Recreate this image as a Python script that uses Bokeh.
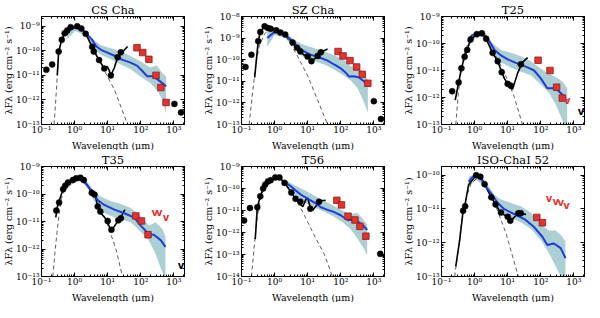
import math
from bokeh.plotting import figure
from bokeh.layouts import column, row
from bokeh.models import LogAxis, FixedTicker, CustomJSTickFormatter, Range1d, Title
from bokeh.core.properties import value
from bokeh.embed import file_html
from bokeh.resources import INLINE

# ---------------- data (wavelength in micron, lambda*F_lambda in erg cm^-2 s^-1) -------------
# CS Cha
CS_PTS_WL = [0.14, 0.21, 0.33, 0.41, 0.50, 0.60, 0.76, 1.2, 1.6, 2.16, 3.4, 3.8, 5.5, 7.9, 12.5, 20, 25, 1040]
CS_PTS_F = [1.7e-11, 2.8e-11, 9.3e-11, 2.8e-10, 5.2e-10, 6.8e-10, 9.2e-10, 1.0e-9, 8.1e-10, 5.0e-10, 1.45e-10, 9.3e-11, 4.2e-11, 1.9e-11, 1.0e-11, 5.5e-11, 8.7e-11, 6.9e-13]
CS_LINE_WL = [0.30, 0.33, 0.41, 0.50, 0.60, 0.76, 1.2, 1.6, 2.16, 3.4, 4.1, 5.5, 7.9, 9.8, 10.9, 12.5, 16, 20, 40]
CS_LINE_F = [1e-11, 9.3e-11, 2.8e-10, 5.2e-10, 6.8e-10, 9.2e-10, 1.0e-9, 8.1e-10, 5.0e-10, 1.45e-10, 8.5e-11, 4.2e-11, 1.9e-11, 2.3e-11, 1.7e-11, 1e-11, 2.1e-11, 5.5e-11, 1.5e-10]
CS_PHOT_WL = [0.24, 0.27, 0.30, 0.335, 0.41, 0.55, 0.8, 1.1, 1.68, 2.6, 4.1, 7.9, 16, 40]
CS_PHOT_F = [1e-13, 1e-12, 1e-11, 8e-11, 3.5e-10, 6.5e-10, 8.8e-10, 9.1e-10, 7.4e-10, 3.0e-10, 9.3e-11, 1.6e-11, 2.6e-12, 1e-13]
CS_MED_WL = [0.56, 0.75, 1.1, 1.58, 2.3, 3.25, 4.6, 6.3, 9.8, 16, 27, 49, 77, 110, 155, 240, 345, 585]
CS_MED_F = [4.5e-10, 7.4e-10, 9.1e-10, 8.1e-10, 4.8e-10, 3.0e-10, 1.5e-10, 1.1e-10, 8.5e-11, 6.3e-11, 4.4e-11, 3.3e-11, 2.5e-11, 1.55e-11, 9.3e-12, 9.3e-12, 6.4e-12, 3.6e-12]
CS_BAND_WL = [0.59, 1.06, 2.16, 4.1, 6.3, 12.5, 25, 48, 98, 190, 307, 430, 585]
CS_BAND_HI = [7.4e-10, 1.0e-9, 6.4e-10, 2.6e-10, 1.7e-10, 1.26e-10, 9.3e-11, 6.3e-11, 3.8e-11, 2.1e-11, 2.5e-11, 1.35e-11, 8.7e-12]
CS_BAND_LO = [3e-10, 6.4e-10, 4.1e-10, 1.1e-10, 7e-11, 4.5e-11, 2.8e-11, 1.8e-11, 9e-12, 5e-12, 2.5e-12, 1.2e-12, 2.8e-13]
CS_SQ_WL = [77, 115, 176, 289, 406, 582]
CS_SQ_F = [1.33e-10, 8.5e-11, 4.5e-11, 1e-11, 3.2e-12, 7.9e-13]
CS_ERR_WL = [1650]
CS_ERR_F = [3.1e-13]
CS_ERR_LO = [2.4e-13]
CS_ERR_HI = [4.0e-13]

# SZ Cha
SZ_PTS_WL = [0.132, 0.2, 0.32, 0.37, 0.5, 0.63, 0.76, 1.12, 1.5, 2.1, 3.5, 4.8, 6.0, 10, 13, 20, 25, 1000, 1640]
SZ_PTS_F = [4.6e-11, 1.7e-10, 7.2e-10, 1.9e-9, 3.5e-9, 2.9e-9, 2.7e-9, 2.3e-9, 1.8e-9, 1.45e-9, 6.3e-10, 3.6e-10, 2.4e-10, 1.4e-10, 8.5e-11, 1.5e-10, 2.2e-10, 1.2e-12, 1.8e-13]
SZ_LINE_WL = [0.25, 0.32, 0.37, 0.5, 0.63, 0.76, 1.12, 1.5, 2.1, 3.5, 4.8, 6.0, 8, 10, 13, 16, 20, 25, 40]
SZ_LINE_F = [1.5e-11, 7.2e-10, 1.9e-9, 3.5e-9, 2.9e-9, 2.7e-9, 2.3e-9, 1.8e-9, 1.45e-9, 6.3e-10, 3.6e-10, 2.4e-10, 1.6e-10, 1.4e-10, 8.5e-11, 1.1e-10, 1.5e-10, 2.2e-10, 3.1e-10]
SZ_PHOT_WL = [0.17, 0.22, 0.28, 0.35, 0.5, 0.8, 1.12, 1.8, 2.8, 5.0, 10, 20, 40]
SZ_PHOT_F = [1e-13, 3.8e-12, 8.5e-11, 4.8e-10, 1.6e-9, 2.7e-9, 2.7e-9, 1.8e-9, 6.8e-10, 1.4e-10, 1.8e-11, 1.35e-12, 1e-13]
SZ_MED_WL = [0.6, 0.9, 1.12, 2.1, 3.2, 5.0, 7.9, 11, 16, 25, 40, 63, 100, 141, 178, 250, 355, 500, 660]
SZ_MED_F = [1.0e-9, 1.7e-9, 2.0e-9, 1.45e-9, 8e-10, 4e-10, 2.4e-10, 1.8e-10, 1.5e-10, 1.2e-10, 9.1e-11, 6e-11, 4e-11, 2.5e-11, 1.65e-11, 1.7e-11, 1.5e-11, 1e-11, 6.3e-12]
SZ_BAND_WL = [0.6, 1.0, 2.0, 4.0, 7.9, 16, 32, 63, 126, 200, 316, 450, 560, 660]
SZ_BAND_HI = [1.9e-9, 2.7e-9, 1.9e-9, 8e-10, 4.8e-10, 3.4e-10, 2.4e-10, 1.6e-10, 1e-10, 5e-11, 5e-11, 2.8e-11, 1.8e-11, 1.15e-11]
SZ_BAND_LO = [4e-10, 1.35e-9, 1.1e-9, 3.4e-10, 1.2e-10, 8.5e-11, 6e-11, 3.5e-11, 1.8e-11, 1.1e-11, 5e-12, 1.6e-12, 6.8e-13, 3.6e-13]
SZ_SQ_WL = [83, 117, 190, 302, 447, 660]
SZ_SQ_F = [2.4e-10, 1.5e-10, 9.1e-11, 4.6e-11, 2.1e-11, 8.1e-12]

# T25
T25_PTS_WL = [0.21, 0.33, 0.4, 0.5, 0.6, 0.76, 1.17, 1.66, 2.24, 3.5, 5.0, 6.6, 10, 12.6, 25]
T25_PTS_F = [1.7e-12, 3.6e-12, 1.2e-11, 3.2e-11, 5.8e-11, 1.4e-10, 2.2e-10, 2.4e-10, 1.5e-10, 4.5e-11, 2.2e-11, 8.7e-12, 3.2e-12, 2.7e-12, 1.7e-11]
T25_LINE_WL = [0.26, 0.33, 0.4, 0.5, 0.6, 0.76, 1.17, 1.66, 2.24, 3.5, 5.0, 6.6, 8, 10, 14, 20, 28, 40]
T25_LINE_F = [8e-13, 3.6e-12, 1.2e-11, 3.2e-11, 6e-11, 1.4e-10, 2.2e-10, 2.4e-10, 1.5e-10, 4.5e-11, 2.2e-11, 8.7e-12, 5e-12, 3.2e-12, 2e-12, 8e-12, 2e-11, 3e-11]
T25_PHOT_WL = [0.27, 0.32, 0.4, 0.52, 0.76, 1.26, 1.78, 2.8, 5.0, 10, 16, 28]
T25_PHOT_F = [1e-13, 1.3e-12, 1.3e-11, 5.8e-11, 1.5e-10, 2.2e-10, 2e-10, 8.7e-11, 2.6e-11, 4.5e-12, 1e-12, 1e-13]
T25_MED_WL = [0.63, 0.83, 1.26, 1.78, 2.5, 4.0, 6.3, 10, 20, 40, 63, 100, 158, 282, 447, 630]
T25_MED_F = [1.15e-10, 2e-10, 2.35e-10, 2.35e-10, 1.5e-10, 5.8e-11, 3.6e-11, 2.6e-11, 1.8e-11, 1.3e-11, 1e-11, 5.1e-12, 2.2e-12, 2.2e-12, 1.3e-12, 7.6e-13]
T25_BAND_WL = [0.63, 1.12, 2.0, 3.5, 6.3, 12.6, 25, 50, 100, 178, 282, 447, 560, 630]
T25_BAND_HI = [1.7e-10, 3e-10, 2.6e-10, 1e-10, 5.8e-11, 4.5e-11, 3.4e-11, 2.2e-11, 1.15e-11, 7.6e-12, 5.8e-12, 3.9e-12, 2.8e-12, 2.2e-12]
T25_BAND_LO = [7.6e-11, 1.8e-10, 1.7e-10, 3.4e-11, 2e-11, 1.3e-11, 9.1e-12, 6.6e-12, 3e-12, 1.5e-12, 5.5e-13, 1.5e-13, 8e-14, 6e-14]
T25_SQ_WL = [83, 190, 302, 447]
T25_SQ_F = [2.4e-11, 1e-11, 2.4e-12, 9.5e-13]
T25_RLIM_WL = [630]
T25_RLIM_F = [7.6e-13]
T25_BLIM_WL = [1640]
T25_BLIM_F = [3e-13]

# T35
T35_PTS_WL = [0.28, 0.34, 0.45, 0.52, 0.63, 0.89, 1.12, 1.5, 1.9, 3.3, 4.0, 5.0, 6.0, 10, 13, 21, 25]
T35_PTS_F = [2.5e-11, 4.9e-11, 1.5e-10, 2e-10, 2.6e-10, 3.2e-10, 3.7e-10, 3.9e-10, 3.2e-10, 1.1e-10, 9.5e-11, 3.5e-11, 2.3e-11, 1.05e-11, 5e-12, 1.1e-11, 1.3e-11]
T35_LINE_WL = [0.27, 0.31, 0.45, 0.63, 1.12, 1.5, 1.9, 3.3, 4.3, 5.0, 6.3, 9, 12.6, 15, 21, 25, 33]
T35_LINE_F = [1.4e-11, 4e-11, 1.5e-10, 2.6e-10, 3.7e-10, 3.9e-10, 3.2e-10, 1.2e-10, 8e-11, 3.5e-11, 2e-11, 1.2e-11, 4.7e-12, 6e-12, 1.1e-11, 1.4e-11, 2.7e-11]
T35_PHOT_WL = [0.22, 0.26, 0.32, 0.4, 0.56, 0.89, 1.41, 2.2, 3.5, 6.3, 11, 18, 28]
T35_PHOT_F = [1e-13, 9.5e-13, 1.05e-11, 6.9e-11, 2e-10, 3.4e-10, 3.9e-10, 2.6e-10, 1.2e-10, 3.1e-11, 5.4e-12, 9.5e-13, 1e-13]
T35_MED_WL = [0.63, 1.0, 1.5, 2.2, 3.2, 5.0, 7.9, 16, 32, 63, 100, 178, 250, 400, 560]
T35_MED_F = [2.3e-10, 3.4e-10, 3.6e-10, 2.3e-10, 1.35e-10, 6e-11, 4e-11, 2.7e-11, 2e-11, 1.4e-11, 7.1e-12, 3.4e-12, 3.3e-12, 2.1e-12, 1.2e-12]
T35_BAND_WL = [0.63, 1.12, 2.0, 4.0, 6.3, 12.6, 25, 50, 100, 178, 282, 447, 560]
T35_BAND_HI = [3.4e-10, 4.5e-10, 3.9e-10, 1.2e-10, 7.9e-11, 5.5e-11, 4.3e-11, 3.1e-11, 1.6e-11, 7.1e-12, 9.3e-12, 5.4e-12, 2.8e-12]
T35_BAND_LO = [1.7e-10, 3e-10, 2.6e-10, 5.2e-11, 2.3e-11, 1.6e-11, 1.2e-11, 9.3e-12, 4.2e-12, 2e-12, 6.5e-13, 1.45e-13, 8e-14]
T35_SQ_WL = [71, 105, 166]
T35_SQ_F = [1.6e-11, 1.05e-11, 3.3e-12]
T35_RLIM_WL = [263, 363, 575]
T35_RLIM_F = [2.2e-11, 2.1e-11, 1.4e-11]
T35_BLIM_WL = [1640]
T35_BLIM_F = [2.6e-13]

# T56
T56_PTS_WL = [0.12, 0.18, 0.30, 0.37, 0.45, 0.52, 0.63, 0.76, 1.05, 1.4, 2.0, 3.2, 4.3, 6.0, 12, 22]
T56_PTS_F = [3.5e-12, 1.3e-11, 1.4e-11, 4.4e-11, 1e-10, 1.5e-10, 2.1e-10, 2.4e-10, 3.2e-10, 3.2e-10, 1.8e-10, 6.5e-11, 3.4e-11, 2.5e-11, 1.2e-11, 2.5e-11]
T56_LINE_WL = [0.26, 0.30, 0.37, 0.45, 0.63, 1.05, 1.4, 2.0, 3.2, 4.3, 6.0, 7.1, 8.9, 10, 12, 14, 18, 22, 35]
T56_LINE_F = [5e-13, 1.4e-11, 4.4e-11, 1e-10, 2.1e-10, 3.2e-10, 3.2e-10, 1.8e-10, 6.5e-11, 3.4e-11, 1.9e-11, 1.5e-11, 3.2e-11, 3.7e-11, 1.4e-11, 1e-11, 1.6e-11, 2.7e-11, 2.9e-11]
T56_PHOT_WL = [0.2, 0.24, 0.3, 0.4, 0.56, 0.89, 1.4, 2.2, 4.0, 7.9, 16, 32, 56]
T56_PHOT_F = [1e-14, 1.9e-13, 5.2e-12, 5.2e-11, 1.6e-10, 2.9e-10, 2.9e-10, 1.6e-10, 4.4e-11, 6.1e-12, 7.2e-13, 1e-13, 1e-14]
T56_MED_WL = [1.9, 2.8, 4.0, 6.3, 10, 16, 25, 40, 63, 100, 158, 282, 447, 630]
T56_MED_F = [2.1e-10, 1.4e-10, 9.1e-11, 5.2e-11, 3.5e-11, 2.3e-11, 1.4e-11, 1.07e-11, 8.5e-12, 6.1e-12, 3.7e-12, 3.7e-12, 2.3e-12, 1.3e-12]
T56_BAND_WL = [1.9, 4.0, 7.9, 16, 32, 63, 112, 200, 316, 447, 525, 630]
T56_BAND_HI = [2.7e-10, 1.4e-10, 8.5e-11, 4.7e-11, 2.7e-11, 1.6e-11, 1e-11, 6.8e-12, 7.8e-12, 4.4e-12, 3.2e-12, 2.3e-12]
T56_BAND_LO = [1.6e-10, 5.2e-11, 2.3e-11, 1.4e-11, 8.5e-12, 5.2e-12, 3e-12, 1.4e-12, 5.5e-13, 2.4e-13, 1.6e-13, 9e-14]
T56_SQ_WL = [76, 105, 166, 269, 380, 575]
T56_SQ_F = [2.9e-11, 1.8e-11, 5.5e-12, 3.7e-12, 1.9e-12, 6.8e-13]
T56_ERR_WL = [1560]
T56_ERR_F = [1.07e-13]
T56_ERR_LO = [8.5e-14]
T56_ERR_HI = [1.35e-13]

# ISO-ChaI 52
ISO_PTS_WL = [0.45, 0.52, 1.12, 1.5, 2.0, 3.2, 4.3, 6.3, 10, 12, 21, 25]
ISO_PTS_F = [8.8e-12, 1.2e-11, 1e-10, 9e-11, 5.4e-11, 2.2e-11, 1.36e-11, 7.8e-12, 5.9e-12, 4.5e-12, 7.4e-12, 7.4e-12]
ISO_LINE_WL = [0.27, 0.355, 0.45, 0.52, 0.66, 1.12, 1.5, 2.0, 3.2, 4.3, 5.6, 7, 10, 12, 14, 18, 25, 36]
ISO_LINE_F = [2e-13, 1.2e-12, 8.8e-12, 1.4e-11, 5.2e-11, 1e-10, 9e-11, 5.4e-11, 2.2e-11, 1.36e-11, 9e-12, 7e-12, 5.9e-12, 4.5e-12, 5e-12, 6.5e-12, 7.4e-12, 6.8e-12]
ISO_PHOT_WL = [0.25, 0.32, 0.4, 0.52, 0.79, 1.26, 1.78, 2.8, 5.0, 8.9, 14, 21]
ISO_PHOT_F = [1e-13, 6.2e-13, 3.6e-12, 1.7e-11, 5.8e-11, 8.3e-11, 7.2e-11, 3.3e-11, 8.7e-12, 1.9e-12, 4e-13, 1e-13]
ISO_MED_WL = [0.66, 0.89, 1.12, 1.5, 2.2, 3.2, 5.0, 7.9, 16, 32, 63, 112, 158, 250, 400, 560]
ISO_MED_F = [6.4e-11, 9e-11, 1e-10, 8.3e-11, 4.6e-11, 2.8e-11, 1.5e-11, 9.8e-12, 7e-12, 5e-12, 2.9e-12, 1.5e-12, 8.5e-13, 9.5e-13, 6.9e-13, 3.5e-13]
ISO_BAND_WL = [0.66, 1.12, 2.0, 4.0, 6.3, 12.6, 25, 50, 100, 178, 282, 400, 447, 560]
ISO_BAND_HI = [9e-11, 1.1e-10, 7.2e-11, 2.6e-11, 1.9e-11, 1.5e-11, 1.2e-11, 7.8e-12, 3.6e-12, 2.3e-12, 2.3e-12, 1.7e-12, 1.5e-12, 1.07e-12]
ISO_BAND_LO = [4.6e-11, 7.2e-11, 4.6e-11, 1.36e-11, 7.8e-12, 5.4e-12, 4e-12, 2.6e-12, 1.2e-12, 4.9e-13, 2e-13, 1e-13, 8e-14, 6e-14]
ISO_SQ_WL = [76, 112]
ISO_SQ_F = [5.6e-12, 3.9e-12]
ISO_RLIM_WL = [178, 282, 400, 600]
ISO_RLIM_F = [2e-11, 1.7e-11, 1.6e-11, 1.3e-11]

TITLES = ["CS Cha", "SZ Cha", "T25", "T35", "T56", "ISO-ChaI 52"]
Y_RANGES = [(1e-13, 2.5e-9), (1e-13, 1e-8), (1e-13, 1e-9), (1e-13, 1e-9), (1e-14, 1e-9), (1e-13, 1.8e-10)]
X_RANGE = (0.1, 2100)
X_LABEL = "Wavelength (\u03bcm)"
Y_LABEL = "\u03bbF\u03bb (erg cm\u207b\u00b2 s\u207b\u00b9)"

# ---------------- styling ----------------
SERIF = "DejaVu Serif"
BLUE = "#1e3cd8"
BAND = "#abcfd3"
RED = "#e4332d"
RED_EDGE = "#8e1b1b"

FMT_CODE = """
const s = {'-':'\u207b','0':'\u2070','1':'\u00b9','2':'\u00b2','3':'\u00b3','4':'\u2074','5':'\u2075','6':'\u2076','7':'\u2077','8':'\u2078','9':'\u2079'};
const e = Math.round(Math.log10(tick));
return '10' + String(e).split('').map(c => s[c]).join('');
"""


def decade_ticker(lo, hi):
    k0 = int(math.floor(math.log10(lo) + 1e-9))
    k1 = int(math.ceil(math.log10(hi) - 1e-9))
    major = [10.0 ** k for k in range(k0, k1 + 1)]
    minor = [m * 10.0 ** k for k in range(k0 - 1, k1 + 1) for m in range(2, 10)]
    return FixedTicker(ticks=major, minor_ticks=minor)


def style_axis(ax, labels=True, standoff=2):
    ax.major_tick_in = 4
    ax.major_tick_out = 0
    ax.minor_tick_in = 2
    ax.minor_tick_out = 0
    ax.major_tick_line_color = "black"
    ax.minor_tick_line_color = "black"
    ax.axis_line_color = "black"
    ax.major_label_text_font = SERIF
    if labels:
        ax.major_label_text_color = "black"
        ax.major_label_text_font_size = "9px"
        ax.major_label_standoff = standoff
    else:
        ax.major_label_text_alpha = 0.0
        ax.major_label_text_font_size = "1px"
        ax.major_label_standoff = 0


def side_title(text, size):
    return Title(text=text, align="center", text_font=SERIF, text_font_size=size,
                 text_font_style="normal", text_color="black", standoff=0, offset=0)


def make_panel(i, pts, line, phot, med, band, sq=None, rlim=None, blim=None, err=None,
               w=200, h=150, L=37, R=16, T=13, B=25):
    y0, y1 = Y_RANGES[i]
    p = figure(width=w, height=h, x_axis_type="log", y_axis_type="log", title=None,
               x_range=Range1d(*X_RANGE), y_range=Range1d(y0, y1),
               output_backend="svg", toolbar_location=None,
               min_border_left=L, min_border_right=R, min_border_top=T, min_border_bottom=B)
    p.grid.visible = False
    p.outline_line_color = "black"
    p.outline_line_width = 1

    fmt = CustomJSTickFormatter(code=FMT_CODE)
    for ax in p.xaxis:
        ax.ticker = decade_ticker(*X_RANGE)
        ax.formatter = fmt
        style_axis(ax, standoff=0)
    for ax in p.yaxis:
        ax.ticker = decade_ticker(y0, y1)
        ax.formatter = fmt
        style_axis(ax, standoff=2)
    top = LogAxis(ticker=decade_ticker(*X_RANGE))
    style_axis(top, labels=False)
    p.add_layout(top, "above")
    right = LogAxis(ticker=decade_ticker(y0, y1))
    style_axis(right, labels=False)
    p.add_layout(right, "right")

    p.add_layout(side_title(TITLES[i], "11.5px"), "above")
    p.add_layout(side_title(X_LABEL, "9.5px"), "below")
    p.add_layout(side_title(Y_LABEL, "9.5px"), "left")

    bw, blo, bhi = band
    p.varea(x=bw, y1=blo, y2=bhi, fill_color=BAND, fill_alpha=1.0)
    p.line(phot[0], phot[1], line_color="#333333", line_width=0.8, line_dash="4 3")
    p.line(line[0], line[1], line_color="black", line_width=1.6)
    p.line(med[0], med[1], line_color=BLUE, line_width=2)
    p.scatter(pts[0], pts[1], marker="circle", size=6, fill_color="black", line_color="black", line_width=0.5)
    if err is not None:
        ew, ef, elo, ehi = err
        p.segment(x0=ew, y0=elo, x1=ew, y1=ehi, line_color="black", line_width=1)
        p.scatter(ew, ef, marker="circle", size=6, fill_color="black", line_color="black", line_width=0.5)
    if sq is not None:
        p.scatter(sq[0], sq[1], marker="square", size=6.5, fill_color=RED, line_color=RED_EDGE, line_width=0.8)
    if rlim is not None:
        p.text(rlim[0], rlim[1], text=["v"] * len(rlim[0]), text_color=RED, text_font=value("DejaVu Sans"),
               text_font_style="bold", text_font_size="10px", text_align="center", text_baseline="middle")
    if blim is not None:
        p.text(blim[0], blim[1], text=["v"] * len(blim[0]), text_color="black", text_font=value("DejaVu Sans"),
               text_font_style="bold", text_font_size="10px", text_align="center", text_baseline="middle")
    return p


ROW1 = dict(h=150, T=13)
ROW2 = dict(h=152, T=16)
p1 = make_panel(0, (CS_PTS_WL, CS_PTS_F), (CS_LINE_WL, CS_LINE_F), (CS_PHOT_WL, CS_PHOT_F),
                (CS_MED_WL, CS_MED_F), (CS_BAND_WL, CS_BAND_LO, CS_BAND_HI), sq=(CS_SQ_WL, CS_SQ_F),
                err=(CS_ERR_WL, CS_ERR_F, CS_ERR_LO, CS_ERR_HI), **ROW1)
p2 = make_panel(1, (SZ_PTS_WL, SZ_PTS_F), (SZ_LINE_WL, SZ_LINE_F), (SZ_PHOT_WL, SZ_PHOT_F),
                (SZ_MED_WL, SZ_MED_F), (SZ_BAND_WL, SZ_BAND_LO, SZ_BAND_HI), sq=(SZ_SQ_WL, SZ_SQ_F), **ROW1)
p3 = make_panel(2, (T25_PTS_WL, T25_PTS_F), (T25_LINE_WL, T25_LINE_F), (T25_PHOT_WL, T25_PHOT_F),
                (T25_MED_WL, T25_MED_F), (T25_BAND_WL, T25_BAND_LO, T25_BAND_HI), sq=(T25_SQ_WL, T25_SQ_F),
                rlim=(T25_RLIM_WL, T25_RLIM_F), blim=(T25_BLIM_WL, T25_BLIM_F), w=192, R=8, **ROW1)
p4 = make_panel(3, (T35_PTS_WL, T35_PTS_F), (T35_LINE_WL, T35_LINE_F), (T35_PHOT_WL, T35_PHOT_F),
                (T35_MED_WL, T35_MED_F), (T35_BAND_WL, T35_BAND_LO, T35_BAND_HI), sq=(T35_SQ_WL, T35_SQ_F),
                rlim=(T35_RLIM_WL, T35_RLIM_F), blim=(T35_BLIM_WL, T35_BLIM_F), **ROW2)
p5 = make_panel(4, (T56_PTS_WL, T56_PTS_F), (T56_LINE_WL, T56_LINE_F), (T56_PHOT_WL, T56_PHOT_F),
                (T56_MED_WL, T56_MED_F), (T56_BAND_WL, T56_BAND_LO, T56_BAND_HI), sq=(T56_SQ_WL, T56_SQ_F),
                err=(T56_ERR_WL, T56_ERR_F, T56_ERR_LO, T56_ERR_HI), **ROW2)
p6 = make_panel(5, (ISO_PTS_WL, ISO_PTS_F), (ISO_LINE_WL, ISO_LINE_F), (ISO_PHOT_WL, ISO_PHOT_F),
                (ISO_MED_WL, ISO_MED_F), (ISO_BAND_WL, ISO_BAND_LO, ISO_BAND_HI), sq=(ISO_SQ_WL, ISO_SQ_F),
                rlim=(ISO_RLIM_WL, ISO_RLIM_F), w=192, R=8, **ROW2)

layout = column(row(p1, p2, p3), row(p4, p5, p6))
open("out.html", "w").write(file_html(layout, INLINE))
